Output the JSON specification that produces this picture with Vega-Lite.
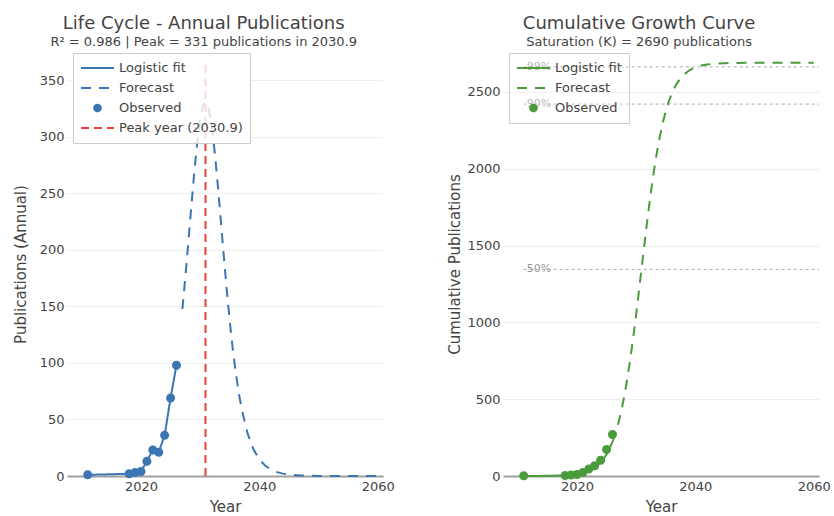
{
  "$schema": "https://vega.github.io/schema/vega-lite/v6.json",
  "background": "white",
  "padding": {"left": 13, "top": 15, "right": 0, "bottom": 0},
  "spacing": 52,
  "config": {
    "view": {"stroke": null},
    "font": "DejaVu Sans",
    "title": {
      "font": "DejaVu Sans", "fontSize": 18, "fontWeight": "normal", "color": "#444444",
      "subtitleFont": "DejaVu Sans", "subtitleFontSize": 13, "subtitleColor": "#444444",
      "subtitlePadding": 3, "offset": 3, "anchor": "middle", "frame": "bounds"
    },
    "axis": {
      "labelFont": "DejaVu Sans", "labelFontSize": 13, "labelColor": "#444444",
      "titleFont": "DejaVu Sans", "titleFontSize": 15, "titleFontWeight": "normal", "titleColor": "#444444",
      "ticks": false, "domain": false, "gridColor": "#eeeeee", "gridWidth": 1
    },
    "axisX": {"grid": false, "domain": true, "domainColor": "#a0a0a0", "domainWidth": 2, "labelPadding": 4, "titlePadding": 6},
    "axisY": {"grid": true, "labelPadding": 3},
    "legend": {
      "orient": "none", "legendX": 6, "legendY": 1,
      "fillColor": "rgba(255,255,255,0.8)", "strokeColor": "#cccccc", "padding": 7,
      "labelFont": "DejaVu Sans", "labelFontSize": 13, "labelColor": "#444444", "labelOffset": 4, "labelLimit": 300,
      "symbolSize": 1089, "symbolStrokeWidth": 2, "symbolOffset": 0,
      "clipHeight": 16, "rowPadding": 4
    }
  },
  "resolve": {
    "scale": {"x": "independent", "y": "independent", "stroke": "independent", "fill": "independent", "shape": "independent", "strokeDash": "independent"},
    "legend": {"stroke": "independent", "fill": "independent", "shape": "independent", "strokeDash": "independent"}
  },
  "datasets": {
    "annualObserved": [
      {"year": 2011, "value": 1, "series": "Observed"},
      {"year": 2018, "value": 2, "series": "Observed"},
      {"year": 2019, "value": 3, "series": "Observed"},
      {"year": 2020, "value": 4, "series": "Observed"},
      {"year": 2021, "value": 13, "series": "Observed"},
      {"year": 2022, "value": 23, "series": "Observed"},
      {"year": 2023, "value": 21, "series": "Observed"},
      {"year": 2024, "value": 36, "series": "Observed"},
      {"year": 2025, "value": 69, "series": "Observed"},
      {"year": 2026, "value": 98, "series": "Observed"}
    ],
    "annualFit": [
      {"year": 2011, "value": 1, "series": "Logistic fit"},
      {"year": 2018, "value": 2, "series": "Logistic fit"},
      {"year": 2019, "value": 3, "series": "Logistic fit"},
      {"year": 2020, "value": 4, "series": "Logistic fit"},
      {"year": 2021, "value": 13, "series": "Logistic fit"},
      {"year": 2022, "value": 23, "series": "Logistic fit"},
      {"year": 2023, "value": 21, "series": "Logistic fit"},
      {"year": 2024, "value": 36, "series": "Logistic fit"},
      {"year": 2025, "value": 69, "series": "Logistic fit"},
      {"year": 2026, "value": 98, "series": "Logistic fit"}
    ],
    "annualForecast": [
      {"year": 2027, "value": 147.7, "series": "Forecast"},
      {"year": 2027.5, "value": 176.1, "series": "Forecast"},
      {"year": 2028, "value": 206.6, "series": "Forecast"},
      {"year": 2028.5, "value": 237.9, "series": "Forecast"},
      {"year": 2029, "value": 268.0, "series": "Forecast"},
      {"year": 2029.5, "value": 294.6, "series": "Forecast"},
      {"year": 2030, "value": 315.3, "series": "Forecast"},
      {"year": 2030.5, "value": 327.8, "series": "Forecast"},
      {"year": 2030.9, "value": 331, "series": "Forecast"},
      {"year": 2031.5, "value": 323.9, "series": "Forecast"},
      {"year": 2032, "value": 307.9, "series": "Forecast"},
      {"year": 2032.5, "value": 284.6, "series": "Forecast"},
      {"year": 2033, "value": 256.2, "series": "Forecast"},
      {"year": 2033.5, "value": 225.4, "series": "Forecast"},
      {"year": 2034, "value": 194.2, "series": "Forecast"},
      {"year": 2034.5, "value": 164.4, "series": "Forecast"},
      {"year": 2035, "value": 137.1, "series": "Forecast"},
      {"year": 2035.5, "value": 112.9, "series": "Forecast"},
      {"year": 2036, "value": 92.0, "series": "Forecast"},
      {"year": 2036.5, "value": 74.3, "series": "Forecast"},
      {"year": 2037, "value": 59.7, "series": "Forecast"},
      {"year": 2038, "value": 37.9, "series": "Forecast"},
      {"year": 2039, "value": 23.7, "series": "Forecast"},
      {"year": 2040, "value": 14.7, "series": "Forecast"},
      {"year": 2041, "value": 9.1, "series": "Forecast"},
      {"year": 2042, "value": 5.6, "series": "Forecast"},
      {"year": 2043, "value": 3.4, "series": "Forecast"},
      {"year": 2044, "value": 2.1, "series": "Forecast"},
      {"year": 2045, "value": 1.3, "series": "Forecast"},
      {"year": 2047, "value": 0.5, "series": "Forecast"},
      {"year": 2050, "value": 0.1, "series": "Forecast"},
      {"year": 2055, "value": 0, "series": "Forecast"},
      {"year": 2060, "value": 0, "series": "Forecast"}
    ],
    "peak": [
      {"year": 2030.9, "lo": 0, "hi": 364, "series": "Peak year (2030.9)"}
    ],
    "cumObserved": [
      {"year": 2011, "value": 1, "series": "Observed"},
      {"year": 2018, "value": 3, "series": "Observed"},
      {"year": 2019, "value": 6, "series": "Observed"},
      {"year": 2020, "value": 10, "series": "Observed"},
      {"year": 2021, "value": 23, "series": "Observed"},
      {"year": 2022, "value": 46, "series": "Observed"},
      {"year": 2023, "value": 67, "series": "Observed"},
      {"year": 2024, "value": 103, "series": "Observed"},
      {"year": 2025, "value": 172, "series": "Observed"},
      {"year": 2026, "value": 270, "series": "Observed"}
    ],
    "cumFit": [
      {"year": 2011, "value": 0.2, "series": "Logistic fit"},
      {"year": 2014, "value": 0.7, "series": "Logistic fit"},
      {"year": 2016, "value": 1.8, "series": "Logistic fit"},
      {"year": 2018, "value": 4.7, "series": "Logistic fit"},
      {"year": 2019, "value": 7.7, "series": "Logistic fit"},
      {"year": 2020, "value": 12.5, "series": "Logistic fit"},
      {"year": 2021, "value": 20.4, "series": "Logistic fit"},
      {"year": 2022, "value": 33.3, "series": "Logistic fit"},
      {"year": 2023, "value": 54.0, "series": "Logistic fit"},
      {"year": 2024, "value": 87.2, "series": "Logistic fit"},
      {"year": 2025, "value": 139.7, "series": "Logistic fit"},
      {"year": 2026, "value": 221.4, "series": "Logistic fit"}
    ],
    "cumForecast": [
      {"year": 2026, "value": 221.4, "series": "Forecast"},
      {"year": 2026.5, "value": 276.7, "series": "Forecast"},
      {"year": 2027, "value": 344.1, "series": "Forecast"},
      {"year": 2027.5, "value": 424.9, "series": "Forecast"},
      {"year": 2028, "value": 520.5, "series": "Forecast"},
      {"year": 2028.5, "value": 631.7, "series": "Forecast"},
      {"year": 2029, "value": 758.2, "series": "Forecast"},
      {"year": 2029.5, "value": 899.1, "series": "Forecast"},
      {"year": 2030, "value": 1051.9, "series": "Forecast"},
      {"year": 2030.5, "value": 1213.1, "series": "Forecast"},
      {"year": 2031, "value": 1378.1, "series": "Forecast"},
      {"year": 2031.5, "value": 1542.2, "series": "Forecast"},
      {"year": 2032, "value": 1700.5, "series": "Forecast"},
      {"year": 2032.5, "value": 1848.8, "series": "Forecast"},
      {"year": 2033, "value": 1984.1, "series": "Forecast"},
      {"year": 2033.5, "value": 2104.6, "series": "Forecast"},
      {"year": 2034, "value": 2209.6, "series": "Forecast"},
      {"year": 2034.5, "value": 2299.1, "series": "Forecast"},
      {"year": 2035, "value": 2374.5, "series": "Forecast"},
      {"year": 2035.5, "value": 2436.8, "series": "Forecast"},
      {"year": 2036, "value": 2488.0, "series": "Forecast"},
      {"year": 2036.5, "value": 2529.4, "series": "Forecast"},
      {"year": 2037, "value": 2562.6, "series": "Forecast"},
      {"year": 2038, "value": 2610.8, "series": "Forecast"},
      {"year": 2039, "value": 2641.0, "series": "Forecast"},
      {"year": 2040, "value": 2659.8, "series": "Forecast"},
      {"year": 2041, "value": 2671.5, "series": "Forecast"},
      {"year": 2042, "value": 2678.6, "series": "Forecast"},
      {"year": 2043, "value": 2683.0, "series": "Forecast"},
      {"year": 2044, "value": 2685.7, "series": "Forecast"},
      {"year": 2045, "value": 2687.4, "series": "Forecast"},
      {"year": 2047, "value": 2689.0, "series": "Forecast"},
      {"year": 2050, "value": 2689.8, "series": "Forecast"},
      {"year": 2055, "value": 2690, "series": "Forecast"},
      {"year": 2060, "value": 2690, "series": "Forecast"}
    ],
    "levels": [
      {"year": 2011, "yearEnd": 2060.9, "value": 2663.1, "label": "99%"},
      {"year": 2011, "yearEnd": 2060.9, "value": 2421, "label": "90%"},
      {"year": 2011, "yearEnd": 2060.9, "value": 1345, "label": "50%"}
    ]
  },
  "hconcat": [
    {
      "width": 316,
      "height": 424,
      "title": {"text": "Life Cycle - Annual Publications", "subtitle": "R² = 0.986 | Peak = 331 publications in 2030.9"},
      "layer": [
        {
          "data": {"name": "annualForecast"},
          "mark": {"type": "line", "strokeWidth": 2},
          "encoding": {
            "x": {"field": "year", "type": "quantitative", "scale": {"domain": [2007.5, 2060.9], "nice": false, "zero": false},
                  "axis": {"title": "Year", "values": [2020, 2040, 2060], "format": "d"}},
            "y": {"field": "value", "type": "quantitative", "scale": {"domain": [0, 375], "nice": false},
                  "axis": {"title": "Publications (Annual)", "values": [0, 50, 100, 150, 200, 250, 300, 350], "format": "d", "titlePadding": 11}},
            "stroke": {"field": "series", "type": "nominal", "legend": {"title": null},
                       "scale": {"domain": ["Logistic fit", "Forecast", "Observed", "Peak year (2030.9)"], "range": ["#3b75b4", "#3b75b4", "#3b75b4", "#e8413c"]}},
            "strokeDash": {"field": "series", "type": "nominal", "legend": {"title": null},
                           "scale": {"domain": ["Logistic fit", "Forecast", "Observed", "Peak year (2030.9)"], "range": [[1, 0], [10, 8], [1, 0], [8, 5]]}}
          }
        },
        {
          "data": {"name": "annualFit"},
          "mark": {"type": "line", "strokeWidth": 2},
          "encoding": {
            "x": {"field": "year", "type": "quantitative"},
            "y": {"field": "value", "type": "quantitative"},
            "stroke": {"field": "series", "type": "nominal", "legend": {"title": null}},
            "strokeDash": {"field": "series", "type": "nominal", "legend": {"title": null}}
          }
        },
        {
          "data": {"name": "peak"},
          "mark": {"type": "rule", "strokeWidth": 2},
          "encoding": {
            "x": {"field": "year", "type": "quantitative"},
            "y": {"field": "lo", "type": "quantitative"},
            "y2": {"field": "hi"},
            "stroke": {"field": "series", "type": "nominal", "legend": {"title": null}},
            "strokeDash": {"field": "series", "type": "nominal", "legend": {"title": null}}
          }
        },
        {
          "data": {"name": "annualObserved"},
          "mark": {"type": "point", "filled": true, "opacity": 1, "size": 2025},
          "encoding": {
            "x": {"field": "year", "type": "quantitative"},
            "y": {"field": "value", "type": "quantitative"},
            "fill": {"field": "series", "type": "nominal", "legend": {"title": null},
                     "scale": {"domain": ["Logistic fit", "Forecast", "Observed", "Peak year (2030.9)"], "range": ["#3b75b4", "#3b75b4", "#3b75b4", "#e8413c"]}},
            "shape": {"field": "series", "type": "nominal", "legend": {"title": null},
                      "scale": {"domain": ["Logistic fit", "Forecast", "Observed", "Peak year (2030.9)"],
                                "range": ["M-1,0H1", "M-1,0H1", "M-0.2,0A0.2,0.2,0,1,1,0.2,0A0.2,0.2,0,1,1,-0.2,0Z", "M-1,0H1"]}}
          }
        }
      ]
    },
    {
      "width": 316,
      "height": 424,
      "title": {"text": "Cumulative Growth Curve", "subtitle": "Saturation (K) = 2690 publications"},
      "layer": [
        {
          "data": {"name": "levels"},
          "mark": {"type": "rule", "strokeWidth": 1, "color": "#aaaaaa", "strokeDash": [3, 3]},
          "encoding": {
            "x": {"field": "year", "type": "quantitative", "scale": {"domain": [2007.5, 2060.9], "nice": false, "zero": false},
                  "axis": {"title": "Year", "values": [2020, 2040, 2060], "format": "d"}},
            "x2": {"field": "yearEnd"},
            "y": {"field": "value", "type": "quantitative", "scale": {"domain": [0, 2760], "nice": false},
                  "axis": {"title": "Cumulative Publications", "values": [0, 500, 1000, 1500, 2000, 2500], "format": "d", "titlePadding": 4}}
          }
        },
        {
          "data": {"name": "levels"},
          "mark": {"type": "text", "align": "left", "baseline": "middle", "dx": 3, "fontSize": 11, "color": "#999999", "font": "DejaVu Sans"},
          "encoding": {
            "x": {"field": "year", "type": "quantitative"},
            "y": {"field": "value", "type": "quantitative"},
            "text": {"field": "label"}
          }
        },
        {
          "data": {"name": "cumForecast"},
          "mark": {"type": "line", "strokeWidth": 2},
          "encoding": {
            "x": {"field": "year", "type": "quantitative"},
            "y": {"field": "value", "type": "quantitative"},
            "stroke": {"field": "series", "type": "nominal", "legend": {"title": null, "fillColor": "rgba(255,255,255,0.3)"},
                       "scale": {"domain": ["Logistic fit", "Forecast", "Observed"], "range": ["#4a9c3b", "#4a9c3b", "#4a9c3b"]}},
            "strokeDash": {"field": "series", "type": "nominal", "legend": {"title": null, "fillColor": "rgba(255,255,255,0.3)"},
                           "scale": {"domain": ["Logistic fit", "Forecast", "Observed"], "range": [[1, 0], [10, 8], [1, 0]]}}
          }
        },
        {
          "data": {"name": "cumFit"},
          "mark": {"type": "line", "strokeWidth": 2},
          "encoding": {
            "x": {"field": "year", "type": "quantitative"},
            "y": {"field": "value", "type": "quantitative"},
            "stroke": {"field": "series", "type": "nominal", "legend": {"title": null, "fillColor": "rgba(255,255,255,0.3)"}},
            "strokeDash": {"field": "series", "type": "nominal", "legend": {"title": null, "fillColor": "rgba(255,255,255,0.3)"}}
          }
        },
        {
          "data": {"name": "cumObserved"},
          "mark": {"type": "point", "filled": true, "opacity": 1, "size": 2025},
          "encoding": {
            "x": {"field": "year", "type": "quantitative"},
            "y": {"field": "value", "type": "quantitative"},
            "fill": {"field": "series", "type": "nominal", "legend": {"title": null, "fillColor": "rgba(255,255,255,0.3)"},
                     "scale": {"domain": ["Logistic fit", "Forecast", "Observed"], "range": ["#4a9c3b", "#4a9c3b", "#4a9c3b"]}},
            "shape": {"field": "series", "type": "nominal", "legend": {"title": null, "fillColor": "rgba(255,255,255,0.3)"},
                      "scale": {"domain": ["Logistic fit", "Forecast", "Observed"],
                                "range": ["M-1,0H1", "M-1,0H1", "M-0.2,0A0.2,0.2,0,1,1,0.2,0A0.2,0.2,0,1,1,-0.2,0Z"]}}
          }
        }
      ]
    }
  ]
}
